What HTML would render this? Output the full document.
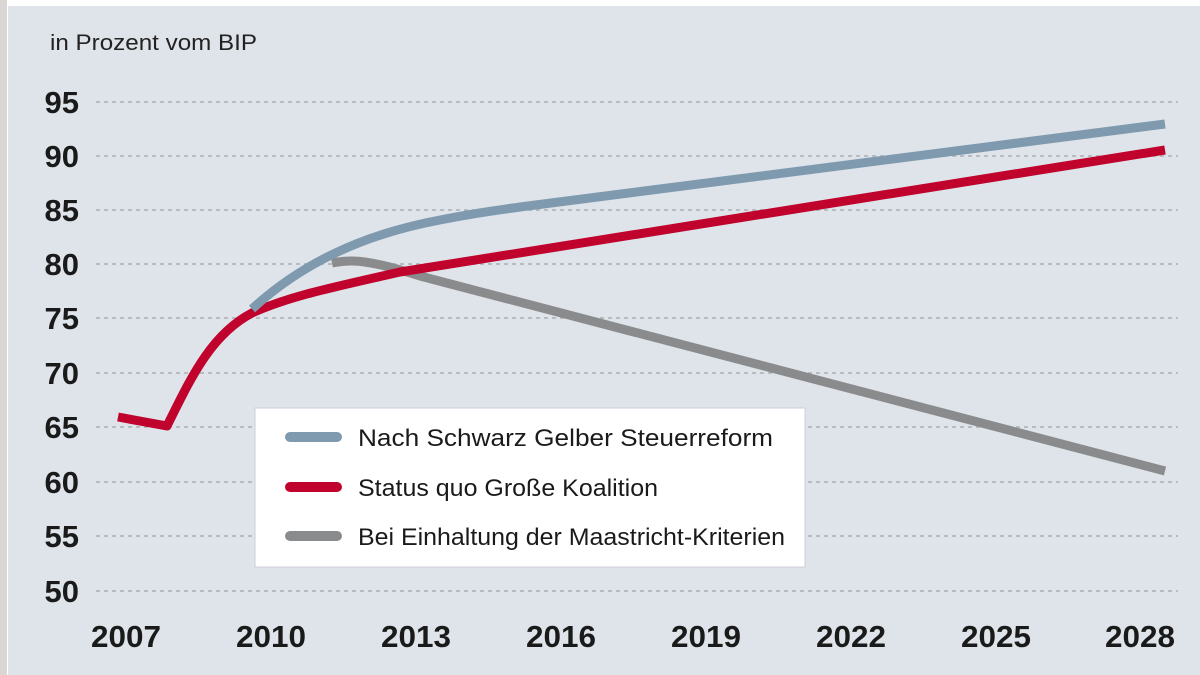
<!DOCTYPE html>
<html><head><meta charset="utf-8"><style>
body{margin:0;width:1200px;height:675px;background:#fff;overflow:hidden}
svg{display:block}
</style></head><body>
<svg width="1200" height="675" xmlns="http://www.w3.org/2000/svg" font-family="'Liberation Sans',sans-serif">
<rect x="0" y="0" width="1200" height="675" fill="#fff"/>
<rect x="0" y="0" width="7" height="675" fill="#d9d6d3"/>
<rect x="8" y="6" width="1192" height="669" fill="#dfe4ea"/>
<text x="50" y="50" font-size="22" fill="#222" textLength="207" lengthAdjust="spacingAndGlyphs">in Prozent vom BIP</text>
<g stroke="#a9aeb4" stroke-width="1.5" stroke-dasharray="4,4">
<line x1="96" x2="1178" y1="102" y2="102"/><line x1="96" x2="1178" y1="156" y2="156"/>
<line x1="96" x2="1178" y1="210" y2="210"/><line x1="96" x2="1178" y1="264" y2="264"/>
<line x1="96" x2="1178" y1="318" y2="318"/><line x1="96" x2="1178" y1="373" y2="373"/>
<line x1="96" x2="1178" y1="427" y2="427"/><line x1="96" x2="1178" y1="482" y2="482"/>
<line x1="96" x2="1178" y1="536" y2="536"/><line x1="96" x2="1178" y1="591" y2="591"/>
</g>
<g font-size="31" font-weight="bold" fill="#1a1a1a" text-anchor="end">
<text x="79" y="113">95</text><text x="79" y="167">90</text><text x="79" y="221">85</text>
<text x="79" y="275">80</text><text x="79" y="329">75</text><text x="79" y="384">70</text>
<text x="79" y="438">65</text><text x="79" y="493">60</text><text x="79" y="547">55</text><text x="79" y="602">50</text>
</g>
<g font-size="31" font-weight="bold" fill="#1a1a1a">
<text x="91" y="647" textLength="70" lengthAdjust="spacingAndGlyphs">2007</text>
<text x="236" y="647" textLength="70" lengthAdjust="spacingAndGlyphs">2010</text>
<text x="381" y="647" textLength="70" lengthAdjust="spacingAndGlyphs">2013</text>
<text x="526" y="647" textLength="70" lengthAdjust="spacingAndGlyphs">2016</text>
<text x="671" y="647" textLength="70" lengthAdjust="spacingAndGlyphs">2019</text>
<text x="816" y="647" textLength="70" lengthAdjust="spacingAndGlyphs">2022</text>
<text x="961" y="647" textLength="70" lengthAdjust="spacingAndGlyphs">2025</text>
<text x="1105" y="647" textLength="70" lengthAdjust="spacingAndGlyphs">2028</text>
</g>
<g fill="none" stroke-width="9" stroke-linejoin="round">
<path d="M332,263 C342,261 352,260 365,262 C390,266 400,270 420,276 L1165,471" stroke="#8a8b8d"/>
<path d="M118,417 L167,426 C190,380 210,335 252,313 C290,296 330,288 400,272 L1165,150" stroke="#c0032c"/>
<path d="M252,309 C300,265 360,235 440,220 C480,212 500,210 520,207 L1165,124" stroke="#7f9aae"/>
</g>
<rect x="255" y="408" width="550" height="159" fill="#fff" stroke="#ccd" stroke-width="1"/>
<g stroke-width="10" stroke-linecap="round">
<line x1="290" x2="337" y1="437" y2="437" stroke="#7f9aae"/>
<line x1="290" x2="337" y1="487" y2="487" stroke="#c0032c"/>
<line x1="290" x2="337" y1="536" y2="536" stroke="#8a8b8d"/>
</g>
<g font-size="24" fill="#1a1a1a">
<text x="358" y="446" textLength="415" lengthAdjust="spacingAndGlyphs">Nach Schwarz Gelber Steuerreform</text>
<text x="358" y="496" textLength="300" lengthAdjust="spacingAndGlyphs">Status quo Große Koalition</text>
<text x="358" y="545" textLength="427" lengthAdjust="spacingAndGlyphs">Bei Einhaltung der Maastricht-Kriterien</text>
</g>
</svg>
</body></html>
